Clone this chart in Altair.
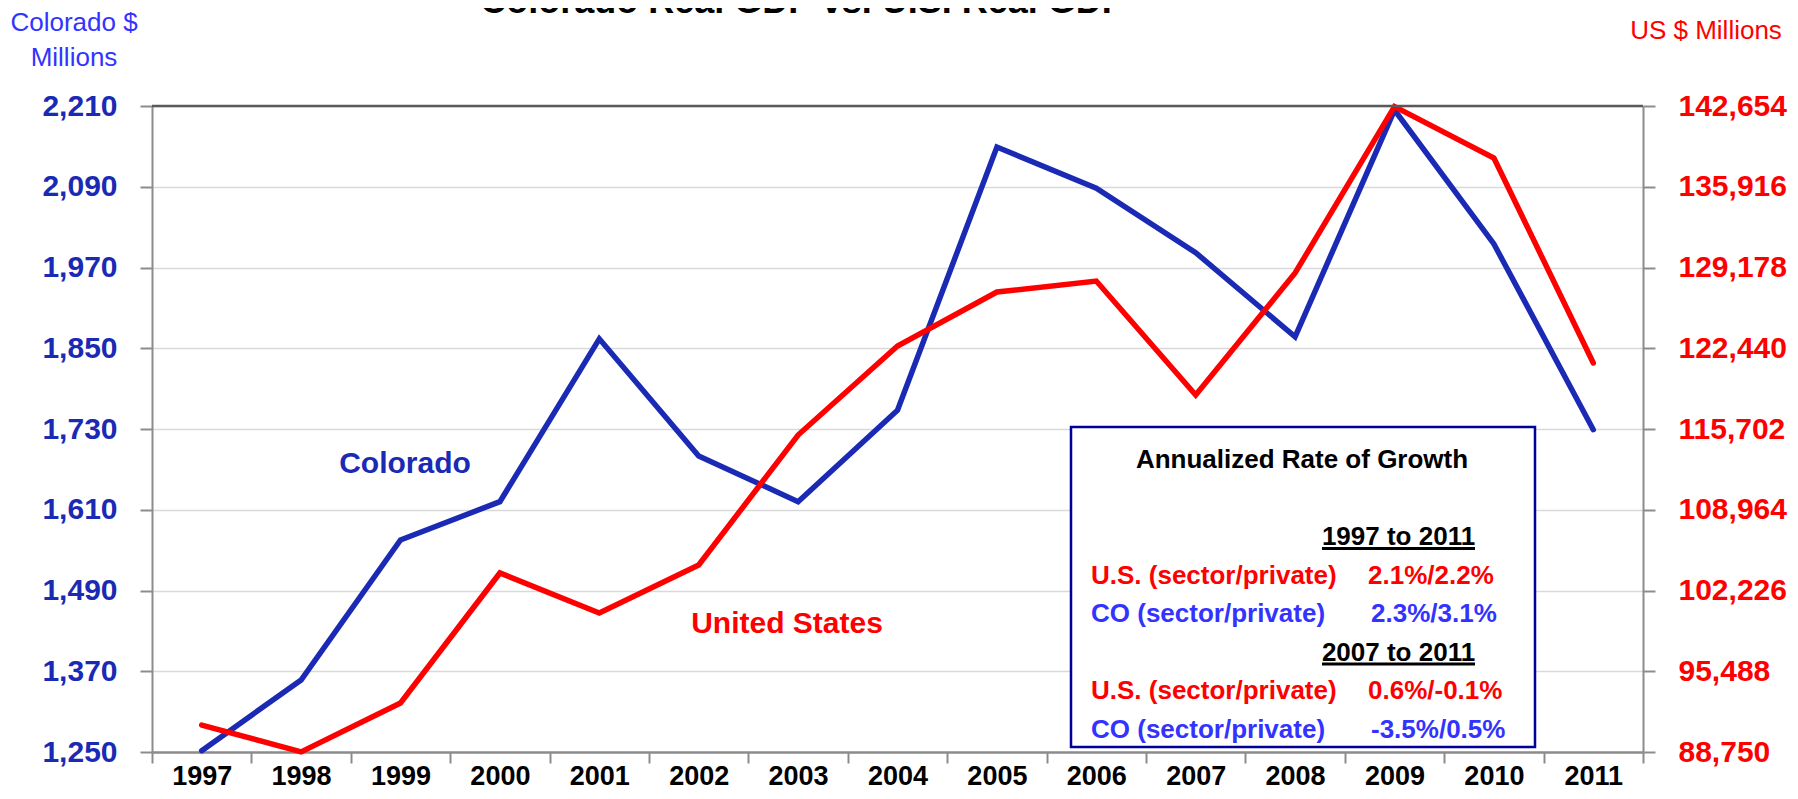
import altair as alt
import pandas as pd

# ---------------- data ----------------
years = [1997, 1998, 1999, 2000, 2001, 2002, 2003, 2004, 2005, 2006, 2007, 2008, 2009, 2010, 2011]
co_gdp = [1252, 1357, 1565, 1622, 1864, 1690, 1622, 1758, 2149, 2088, 1992, 1867, 2204, 2005, 1729]
us_gdp = [91000, 88760, 92840, 103690, 100350, 104350, 115200, 122630, 127130, 128050, 118540, 128720, 142600, 138320, 121210]
co_ticks = [1250, 1370, 1490, 1610, 1730, 1850, 1970, 2090, 2210]
us_ticks = [88750, 95488, 102226, 108964, 115702, 122440, 129178, 135916, 142654]

chart_title = "Colorado Real GDP  vs. U.S. Real GDP"
co_axis_title = ["Colorado $", "Millions"]
us_axis_title = "US $ Millions"
series_names = ["Colorado", "United States"]
box_title = "Annualized Rate of Growth"
period_labels = ["1997 to 2011", "2007 to 2011"]
row_labels = ["U.S. (sector/private)", "CO (sector/private)", "U.S. (sector/private)", "CO (sector/private)"]
row_values = ["2.1%/2.2%", "2.3%/3.1%", "0.6%/-0.1%", "-3.5%/0.5%"]

# ---------------- style / layout ----------------
W, H = 1491, 646
FONT = "Liberation Sans, Arial, Helvetica, sans-serif"
BLUE = "#1B2AB5"
LBLUE = "#3333FF"
RED = "#FF0000"
GRAY = "#8C8C8C"
row_colors = [RED, LBLUE, RED, LBLUE]

df = pd.DataFrame({"year": years, "co": co_gdp, "us": us_gdp})
one = pd.DataFrame({"k": [0]})

xenc = alt.X(
    "year:O",
    bandPosition=0.5,
    scale=alt.Scale(type="band", paddingInner=0, paddingOuter=0),
    axis=alt.Axis(
        title=None, labelAngle=0, tickBand="extent",
        labelFont=FONT, labelFontSize=27, labelFontWeight="bold", labelColor="black",
        labelPadding=0, tickSize=11, tickWidth=2, tickColor=GRAY,
        domainColor=GRAY, domainWidth=2.5, grid=False,
    ),
)

co_line = alt.Chart(df).mark_line(color=BLUE, strokeWidth=5.5, strokeJoin="miter", strokeCap="round").encode(
    x=xenc,
    y=alt.Y(
        "co:Q",
        scale=alt.Scale(domain=[co_ticks[0], co_ticks[-1]], nice=False, zero=False),
        axis=alt.Axis(
            orient="left", values=co_ticks, format=",d", title=None,
            labelFont=FONT, labelFontSize=30, labelFontWeight="bold", labelColor=BLUE,
            labelPadding=23, tickSize=12, tickWidth=2, tickColor=GRAY,
            domainColor=GRAY, domainWidth=2, grid=True, gridColor="#D9D9D9", gridWidth=1.5,
        ),
    ),
)

us_line = alt.Chart(df).mark_line(color=RED, strokeWidth=5.5, strokeJoin="miter", strokeCap="round").encode(
    x=xenc,
    y=alt.Y(
        "us:Q",
        scale=alt.Scale(domain=[us_ticks[0], us_ticks[-1]], nice=False, zero=False),
        axis=alt.Axis(
            orient="right", values=us_ticks, format=",d", title=None,
            labelFont=FONT, labelFontSize=30, labelFontWeight="bold", labelColor=RED,
            labelPadding=23, tickSize=12, tickWidth=2, tickColor=GRAY,
            domainColor=GRAY, domainWidth=2, grid=False,
        ),
    ),
)

top_frame = alt.Chart(one).mark_rule(color="#595959", strokeWidth=2.5).encode(
    x=alt.value(0), x2=alt.value(W), y=alt.value(0)
)


def px(field):
    return alt.X(f"{field}:Q", scale=None, axis=None)


def py(field):
    return alt.Y(f"{field}:Q", scale=None, axis=None)


# axis titles
axis_titles = pd.DataFrame({
    "t": co_axis_title + [us_axis_title],
    "x": [-78, -78, 1554],
    "y": [-83, -48, -75],
    "c": [LBLUE, LBLUE, RED],
})
axis_title_layer = alt.Chart(axis_titles).mark_text(
    font=FONT, fontSize=26, align="center", baseline="middle"
).encode(x=px("x"), y=py("y"), text="t:N", color=alt.Color("c:N", scale=None))

# series labels
series_df = pd.DataFrame({"t": series_names, "x": [253, 635], "y": [367, 527], "c": [BLUE, RED]})
series_layer = alt.Chart(series_df).mark_text(
    font=FONT, fontSize=30, fontWeight="bold", align="center", baseline="alphabetic"
).encode(x=px("x"), y=py("y"), text="t:N", color=alt.Color("c:N", scale=None))

# chart title (cut by the top edge, as in the original)
title_df = pd.DataFrame({"t": [chart_title], "x": [651], "y": [-93]})
title_layer = alt.Chart(title_df).mark_text(
    font=FONT, fontSize=36, fontWeight="bold", align="center", baseline="alphabetic", color="black"
).encode(x=px("x"), y=py("y"), text="t:N")

# growth box
BOX_X0, BOX_X1, BOX_Y0, BOX_Y1 = 919, 1383, 321, 641
box = alt.Chart(one).mark_rect(fill="white", stroke="#000099", strokeWidth=2.5).encode(
    x=alt.value(BOX_X0), x2=alt.value(BOX_X1), y=alt.value(BOX_Y0), y2=alt.value(BOX_Y1)
)
box_title_df = pd.DataFrame({"t": [box_title], "x": [1150], "y": [362]})
box_title_layer = alt.Chart(box_title_df).mark_text(
    font=FONT, fontSize=26, fontWeight="bold", align="center", baseline="alphabetic", color="black"
).encode(x=px("x"), y=py("y"), text="t:N")

ROW_STEP = 38.5
period_y = [439, 439 + 3 * ROW_STEP]
period_df = pd.DataFrame({"t": period_labels, "x": [1246.5, 1246.5], "y": period_y})
period_layer = alt.Chart(period_df).mark_text(
    font=FONT, fontSize=26, fontWeight="bold", align="center", baseline="alphabetic", color="black"
).encode(x=px("x"), y=py("y"), text="t:N")
underline_df = pd.DataFrame({"x": [1170, 1170], "x2": [1323, 1323], "y": [v + 3.5 for v in period_y]})
underline_layer = alt.Chart(underline_df).mark_rule(color="black", strokeWidth=3).encode(
    x=px("x"), x2="x2:Q", y=py("y")
)

row_y = [period_y[0] + ROW_STEP, period_y[0] + 2 * ROW_STEP, period_y[1] + ROW_STEP, period_y[1] + 2 * ROW_STEP]
rows_df = pd.DataFrame({
    "label": row_labels, "value": row_values, "c": row_colors, "y": row_y,
    "xl": [939] * 4, "xv": [1216, 1219, 1216, 1219],
})
row_label_layer = alt.Chart(rows_df).mark_text(
    font=FONT, fontSize=26, fontWeight="bold", align="left", baseline="alphabetic"
).encode(x=px("xl"), y=py("y"), text="label:N", color=alt.Color("c:N", scale=None))
row_value_layer = alt.Chart(rows_df).mark_text(
    font=FONT, fontSize=26, fontWeight="bold", align="left", baseline="alphabetic"
).encode(x=px("xv"), y=py("y"), text="value:N", color=alt.Color("c:N", scale=None))

chart = alt.layer(
    co_line, us_line, top_frame, box, box_title_layer, period_layer, underline_layer,
    row_label_layer, row_value_layer, series_layer, axis_title_layer, title_layer,
).resolve_scale(y="independent").properties(
    width=W, height=H,
    autosize=alt.AutoSizeParams(type="none"),
    padding={"left": 144, "top": 98, "right": 145, "bottom": 39},
).configure_view(stroke=None).configure(background="white")

chart.save("out.html", embed_options={"renderer": "svg", "actions": False})
